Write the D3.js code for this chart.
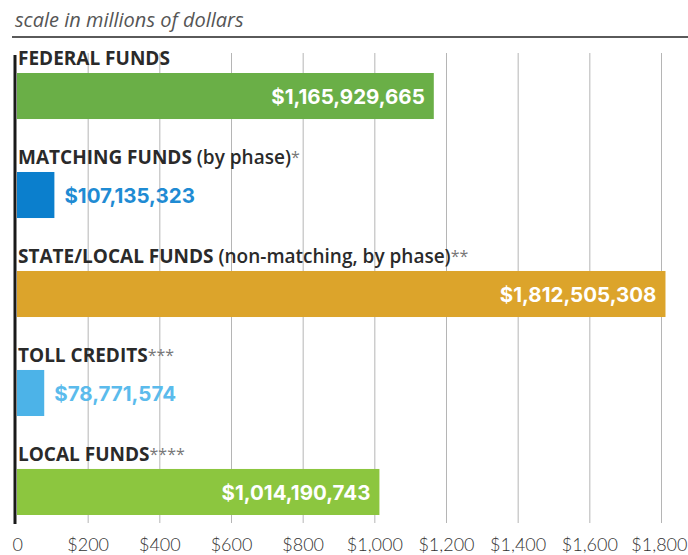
<!DOCTYPE html>
<html>
<head>
<meta charset="utf-8">
<script src="https://cdn.jsdelivr.net/npm/d3@7"></script>
<style>
  html, body { margin: 0; padding: 0; background: #fff; }
  svg { display: block; }
</style>
</head>
<body>
<svg id="chart" width="688" height="555"></svg>
<script>
// ---- data ----
const categories = ["FEDERAL FUNDS", "MATCHING FUNDS", "STATE/LOCAL FUNDS", "TOLL CREDITS", "LOCAL FUNDS"];
const labelNotes = ["", " (by phase)*", " (non-matching, by phase)**", "***", "****"];
const valuesDollars = [1165929665, 107135323, 1812505308, 78771574, 1014190743];
const barColors = ["#6aaf47", "#0b7fcd", "#dca42b", "#4cb3e8", "#8cc63f"];
const labelColors = ["#ffffff", "#1f8bd3", "#ffffff", "#5bbbec", "#ffffff"];
const labelInside = [true, false, true, false, true];
const tickValues = [0, 200, 400, 600, 800, 1000, 1200, 1400, 1600, 1800];
const tickLabels = ["0", "$200", "$400", "$600", "$800", "$1,000", "$1,200", "$1,400", "$1,600", "$1,800"];
const titleText = "scale in millions of dollars";

const rows = categories.map((c, i) => ({
  cat: c, note: labelNotes[i], value: valuesDollars[i] / 1e6, raw: valuesDollars[i],
  color: barColors[i], lcolor: labelColors[i], inside: labelInside[i]
}));

const svg = d3.select("#chart");

const x = d3.scaleLinear().domain([0, 1800]).range([16, 661]);
const y = d3.scaleBand().domain(categories).range([73, 515]).paddingInner(0.535).paddingOuter(0).align(0);

// title
svg.append("text")
  .attr("x", 15).attr("y", 27)
  .attr("font-family", "'Open Sans', sans-serif")
  .attr("font-style", "italic")
  .attr("font-size", 20)
  .attr("fill", "#555")
  .text(titleText);

svg.append("line")
  .attr("x1", 12).attr("x2", 688).attr("y1", 37).attr("y2", 37)
  .attr("stroke", "#5a5a5a").attr("stroke-width", 2);

// grid lines (via axis)
const grid = svg.append("g")
  .attr("transform", "translate(0,523)")
  .call(d3.axisTop(x).tickValues(tickValues.slice(1)).tickSize(470).tickFormat(""));
grid.select(".domain").remove();
grid.selectAll(".tick line").attr("stroke", "#b5b5b5").attr("stroke-width", 1);

// bottom tick labels
const axisB = svg.append("g")
  .attr("transform", "translate(0,533)")
  .call(d3.axisBottom(x).tickValues(tickValues).tickSize(0).tickPadding(0)
    .tickFormat((d, i) => tickLabels[i]));
axisB.select(".domain").remove();
axisB.selectAll(".tick text")
  .attr("font-family", "Lato, sans-serif")
  .attr("font-weight", 300)
  .attr("font-size", 18)
  .attr("fill", "#333")
  .attr("dy", "1.0em");
axisB.selectAll(".tick text").filter((d) => d === 0).attr("text-anchor", "start").attr("dx", -4);
axisB.selectAll(".tick text").filter((d) => d === 1800).attr("text-anchor", "end").attr("dx", 26);

// bars
svg.append("g").selectAll("rect").data(rows).join("rect")
  .attr("x", x(0) + 1)
  .attr("y", d => y(d.cat))
  .attr("width", d => x(d.value) - x(0) - 1)
  .attr("height", y.bandwidth())
  .attr("fill", d => d.color);

// left axis line
svg.append("line")
  .attr("x1", 15).attr("x2", 15).attr("y1", 55).attr("y2", 524)
  .attr("stroke", "#1a1a1a").attr("stroke-width", 3);

// category labels
const cl = svg.append("g").selectAll("text").data(rows).join("text")
  .attr("x", 18)
  .attr("y", d => y(d.cat) - 8)
  .attr("font-family", "'Open Sans', sans-serif")
  .attr("font-size", 19)
  .attr("fill", "#2a2a2a");
cl.append("tspan").attr("font-weight", 700).text(d => d.cat);
cl.append("tspan").attr("font-weight", 600).text(d => d.note.replace(/\*+$/, ""));
cl.append("tspan").attr("font-weight", 400).attr("fill", "#777").attr("font-size", 16).attr("dy", -1)
  .text(d => (d.note.match(/\*+$/) || [""])[0]);

// value labels
const fmt = d3.format("$,");
svg.append("g").selectAll("text").data(rows).join("text")
  .attr("x", d => d.inside ? x(d.value) - 9 : x(d.value) + 10)
  .attr("y", d => y(d.cat) + y.bandwidth() / 2 + 8)
  .attr("text-anchor", d => d.inside ? "end" : "start")
  .attr("font-family", "Inter, sans-serif")
  .attr("font-weight", 700)
  .attr("font-size", 20.5)
  .attr("fill", d => d.lcolor)
  .text(d => fmt(d.raw));
</script>
</body>
</html>
